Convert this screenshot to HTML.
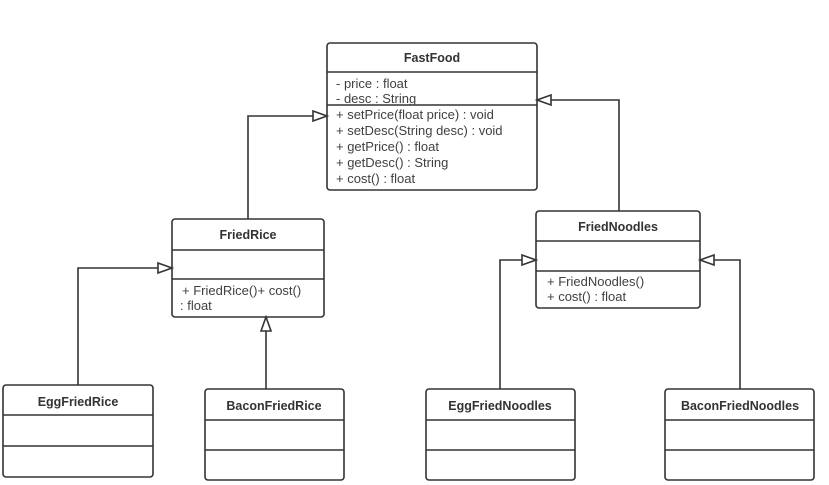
<!DOCTYPE html>
<html><head><meta charset="utf-8"><style>
html,body{margin:0;padding:0;background:#fff;}
svg{display:block;}
text{font-family:"Liberation Sans","DejaVu Sans",sans-serif;fill:#404040;font-size:13px;}
.t{font-weight:bold;text-anchor:middle;fill:#333;font-size:12.5px;}
</style></head><body>
<svg width="829" height="485" viewBox="0 0 829 485" xmlns="http://www.w3.org/2000/svg">
<g fill="none" stroke="#333" stroke-width="1.6">
<rect x="327" y="43" width="210" height="147" rx="3"/>
<line x1="327" y1="72" x2="537" y2="72"/><line x1="327" y1="105" x2="537" y2="105"/>
<rect x="172" y="219" width="152" height="98" rx="3"/>
<line x1="172" y1="250" x2="324" y2="250"/><line x1="172" y1="279" x2="324" y2="279"/>
<rect x="536" y="211" width="164" height="97" rx="3"/>
<line x1="536" y1="241" x2="700" y2="241"/><line x1="536" y1="271" x2="700" y2="271"/>
<rect x="3" y="385" width="150" height="92" rx="3"/>
<line x1="3" y1="415" x2="153" y2="415"/><line x1="3" y1="446" x2="153" y2="446"/>
<rect x="205" y="389" width="139" height="91" rx="3"/>
<line x1="205" y1="420" x2="344" y2="420"/><line x1="205" y1="450" x2="344" y2="450"/>
<rect x="426" y="389" width="149" height="91" rx="3"/>
<line x1="426" y1="420" x2="575" y2="420"/><line x1="426" y1="450" x2="575" y2="450"/>
<rect x="665" y="389" width="149" height="91" rx="3"/>
<line x1="665" y1="420" x2="814" y2="420"/><line x1="665" y1="450" x2="814" y2="450"/>
<polyline points="248,219 248,116 313,116"/>
<polygon points="313,111 327,116 313,121"/>
<polyline points="619,211 619,100 551,100"/>
<polygon points="551,95 537,100 551,105"/>
<polyline points="78,385 78,268 158,268"/>
<polygon points="158,263 172,268 158,273"/>
<polyline points="266,389 266,331"/>
<polygon points="261,331 266,317 271,331"/>
<polyline points="500,389 500,260 522,260"/>
<polygon points="522,255 536,260 522,265"/>
<polyline points="740,389 740,260 714,260"/>
<polygon points="714,255 700,260 714,265"/>
</g>
<text class="t" x="432" y="62">FastFood</text>
<text x="336" y="88">- price : float</text>
<text x="336" y="103">- desc : String</text>
<text x="336" y="119">+ setPrice(float price) : void</text>
<text x="336" y="135">+ setDesc(String desc) : void</text>
<text x="336" y="151">+ getPrice() : float</text>
<text x="336" y="167">+ getDesc() : String</text>
<text x="336" y="183">+ cost() : float</text>
<text class="t" x="248" y="239">FriedRice</text>
<text x="182" y="295">+ FriedRice()+ cost()</text>
<text x="180" y="310">: float</text>
<text class="t" x="618" y="231">FriedNoodles</text>
<text x="547" y="286">+ FriedNoodles()</text>
<text x="547" y="301">+ cost() : float</text>
<text class="t" x="78" y="406">EggFriedRice</text>
<text class="t" x="274" y="410">BaconFriedRice</text>
<text class="t" x="500" y="410">EggFriedNoodles</text>
<text class="t" x="740" y="410">BaconFriedNoodles</text>
</svg>
</body></html>
